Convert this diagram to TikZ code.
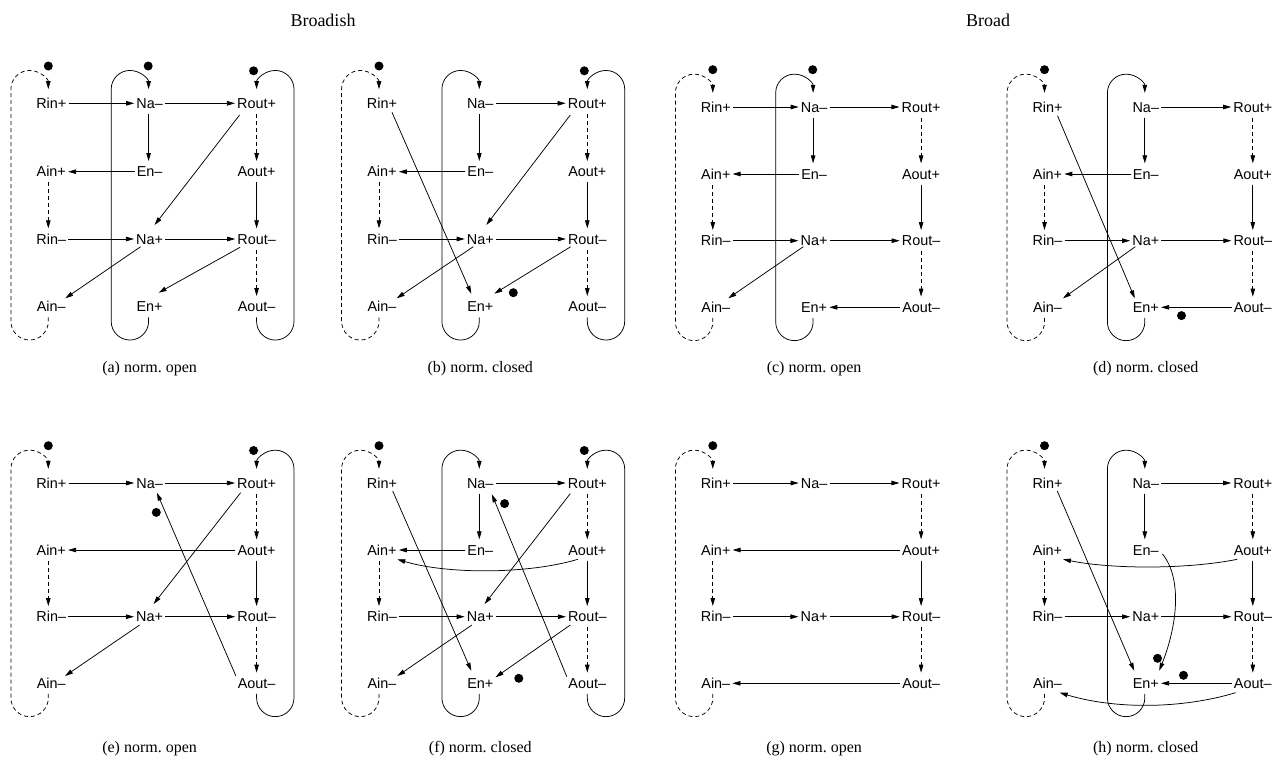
\documentclass[tikz,border=0pt]{standalone}
\usepackage{fontspec}
\setmainfont{Liberation Serif}
\newfontfamily\lblfont{Liberation Sans}
\usetikzlibrary{arrows.meta}
\tikzset{
  lbl/.style={font=\lblfont\fontsize{14.4}{14.4}\selectfont, inner xsep=2pt, inner ysep=5.3pt, text height=10.3pt, text depth=0pt},
  arr/.style={line width=0.75pt, -{Triangle[length=8pt,width=4.5pt]}},
  darr/.style={arr, dash pattern=on 4pt off 3pt},
  dotn/.style={circle, fill=black, inner sep=0pt, minimum size=9pt},
  captxt/.style={font=\fontsize{16}{16}\selectfont},
  ttl/.style={font=\fontsize{18}{18}\selectfont},
}
\newcommand\dE[7][arr]{\draw[#1] ([shift={(#3,#4)}]#2.center) -- ([shift={(#6,#7)}]#5.center);}
\newcommand\basenodes[6]{%
 \node[lbl] (#1RiP) at ({#2+51.3},#3) {Rin+};
 \node[lbl] (#1AiP) at ({#2+51.3},#4) {Ain+};
 \node[lbl] (#1RiM) at ({#2+51.3},#5) {Rin–};
 \node[lbl] (#1AiM) at ({#2+51.3},#6) {Ain–};
 \node[lbl] (#1NaM) at ({#2+149.6},#3) {Na–};
 \node[lbl] (#1NaP) at ({#2+149.6},#5) {Na+};
 \node[lbl] (#1RoP) at ({#2+256.6},#3) {Rout+};
 \node[lbl] (#1AoP) at ({#2+256.6},#4) {Aout+};
 \node[lbl] (#1RoM) at ({#2+256.6},#5) {Rout–};
 \node[lbl] (#1AoM) at ({#2+256.6},#6) {Aout–};
}
\newcommand\ennodes[4]{%
 \node[lbl] (#1EnM) at ({#2+149.6},#3) {En–};
 \node[lbl] (#1EnP) at ({#2+149.6},#4) {En+};
}
\newcommand\lpleft[4]{%
 \draw[#1] ([xshift=#4]#2.south) -- ++(0,4) arc (0:180:18.7) -- ([xshift=#4-37.4,yshift=3.5]#3.north) arc (180:360:18.7);}
\newcommand\lpright[2]{%
 \draw[arr] (#1.south) -- ++(0,4) arc (180:0:18.7) -- ([xshift=37.4,yshift=3.5]#2.north) arc (0:-180:18.7);}
\newcommand\common[1]{%
 \draw[arr] (#1NaM) -- (#1RoP);
 \draw[darr] ([xshift=-3]#1AiP.south) -- ([xshift=-3]#1RiM.north);
 \draw[arr] (#1RiM) -- (#1NaP);
 \draw[arr] (#1NaP) -- (#1RoM);
 \draw[darr] (#1RoP) -- (#1AoP);
 \draw[arr] (#1AoP) -- (#1RoM);
 \draw[darr] (#1RoM) -- (#1AoM);
 \lpleft{darr}{#1AiM}{#1RiP}{-3}
 \node[dotn] (#1dR) at ([shift={(-3,-37.3)}]#1RiP.center) {};
}
\newcommand\nadown[1]{\draw[arr] ([xshift=-1]#1NaM.south) -- ([xshift=-1]#1EnM.north);}
\begin{document}
\begin{tikzpicture}[x=1pt,y=-1pt]
\useasboundingbox (0,0) rectangle (1278,769);
\node[ttl] (t1) at (323,20) {Broadish};
\node[ttl] (t2) at (988,20) {Broad};
% ---------- (a)
\basenodes{a}{0}{103.3}{171.7}{239}{306.7}
\ennodes{a}{0}{171.7}{306.7}
\common{a}
\draw[arr] (aRiP) -- (aNaM);
\nadown{a}
\draw[arr] (aEnM) -- (aAiP);
\dE{aRoP}{-17}{11.7}{aNaP}{5}{-14}
\dE{aNaP}{-9}{7.7}{aAiM}{14}{-8.4}
\dE{aRoM}{-16.5}{8.3}{aEnP}{9}{-14}
\lpleft{arr}{aEnP}{aNaM}{-1}
\lpright{aAoM}{aRoP}
\node[dotn] (adN) at ([shift={(-1.4,-37.3)}]aNaM.center) {};
\node[dotn] (adO) at ([shift={(-3,-32.5)}]aRoP.center) {};
\node[captxt] (aC) at (149.6,369) {(a) norm.\ open};
% ---------- (b)
\basenodes{b}{330.7}{103.3}{171.7}{239}{306.7}
\ennodes{b}{330.7}{171.7}{306.7}
\common{b}
\nadown{b}
\draw[arr] (bEnM) -- (bAiP);
\dE{bRiP}{10}{9}{bEnP}{-9}{-13}
\dE{bRoP}{-17}{11.7}{bNaP}{6}{-14}
\dE{bNaP}{-7}{7.7}{bAiM}{14.7}{-8.4}
\dE{bRoM}{-16.6}{7.7}{bEnP}{14}{-13}
\lpleft{arr}{bEnP}{bNaM}{-1}
\lpright{bAoM}{bRoP}
\node[dotn] (bdO) at ([shift={(-3,-32.5)}]bRoP.center) {};
\node[dotn] (bdE) at ([shift={(33,-14)}]bEnP.center) {};
\node[captxt] (bC) at (480.3,369) {(b) norm.\ closed};
% ---------- (c)
\basenodes{c}{664.5}{107}{174}{240.7}{307.3}
\ennodes{c}{664.5}{174}{307.3}
\common{c}
\draw[arr] (cRiP) -- (cNaM);
\nadown{c}
\draw[arr] (cEnM) -- (cAiP);
\dE{cNaP}{-10.8}{6}{cAiM}{12.5}{-9}
\draw[arr] (cAoM) -- (cEnP);
\lpleft{arr}{cEnP}{cNaM}{-1}
\node[dotn] (cdN) at ([shift={(-1.4,-37.3)}]cNaM.center) {};
\node[captxt] (cC) at (814.1,369) {(c) norm.\ open};
% ---------- (d)
\basenodes{d}{996.2}{107}{174}{240.7}{307.3}
\ennodes{d}{996.2}{174}{307.3}
\common{d}
\nadown{d}
\draw[arr] (dEnM) -- (dAiP);
\dE{dRiP}{10}{8.7}{dEnP}{-11}{-9}
\dE{dNaP}{-10.5}{6}{dAiM}{15.5}{-9}
\draw[arr] (dAoM) -- (dEnP);
\lpleft{arr}{dEnP}{dNaM}{-1}
\node[dotn] (ddE) at ([shift={(35.7,8.3)}]dEnP.center) {};
\node[captxt] (dC) at (1145.8,369) {(d) norm.\ closed};
% ---------- (e)
\basenodes{e}{0}{483}{550}{616.7}{683.3}
\common{e}
\draw[arr] (eRiP) -- (eNaM);
\draw[arr] (eAoP) -- (eAiP);
\dE{eRoP}{-16}{9.7}{eNaP}{4}{-12.7}
\dE{eNaP}{-10}{8.3}{eAiM}{13.7}{-7.3}
\dE{eAoM}{-20.7}{-7.3}{eNaM}{7.3}{9.7}
\lpright{eAoM}{eRoP}
\node[dotn] (edO) at ([shift={(-3,-32.5)}]eRoP.center) {};
\node[dotn] (edN) at ([shift={(6.7,29.4)}]eNaM.center) {};
\node[captxt] (eC) at (149.6,749) {(e) norm.\ open};
% ---------- (f)
\basenodes{f}{330.7}{483}{550}{616.7}{683.3}
\ennodes{f}{330.7}{550}{683.3}
\common{f}
\nadown{f}
\draw[arr] (fEnM) -- (fAiP);
\draw[arr] ([shift={(-9.5,9.3)}]fAoP.center) .. controls +(-50,15) and +(50,15) .. ([shift={(15.3,9.3)}]fAiP.center);
\dE{fRiP}{10.7}{8}{fEnP}{-9}{-12.6}
\dE{fRoP}{-17}{10.6}{fNaP}{4.3}{-12.7}
\dE{fNaP}{-8.4}{8.3}{fAiM}{15.3}{-7.3}
\dE{fRoM}{-17}{8.3}{fEnP}{15.2}{-6}
\dE{fAoM}{-20.5}{-6.6}{fNaM}{11.6}{11.3}
\lpleft{arr}{fEnP}{fNaM}{-1}
\lpright{fAoM}{fRoP}
\node[dotn] (fdO) at ([shift={(-3,-32.5)}]fRoP.center) {};
\node[dotn] (fdN) at ([shift={(24.3,20.6)}]fNaM.center) {};
\node[dotn] (fdE) at ([shift={(38.5,-5)}]fEnP.center) {};
\node[captxt] (fC) at (480.3,749) {(f) norm.\ closed};
% ---------- (g)
\basenodes{g}{664.5}{483}{550}{616.7}{683.3}
\common{g}
\draw[arr] (gRiP) -- (gNaM);
\draw[arr] (gAoP) -- (gAiP);
\draw[arr] (gAoM) -- (gAiM);
\node[captxt] (gC) at (814.1,749) {(g) norm.\ open};
% ---------- (h)
\basenodes{h}{996.2}{483}{550}{616.7}{683.3}
\ennodes{h}{996.2}{550}{683.3}
\common{h}
\nadown{h}
\dE{hRiP}{9.8}{8}{hEnP}{-11.6}{-12.6}
\draw[arr] ([shift={(16.7,4)}]hEnM.center) .. controls +(20,25) and +(18,-45) .. ([shift={(13.4,-12.6)}]hEnP.center);
\draw[arr] ([shift={(-15.5,9.3)}]hAoP.center) .. controls +(-50,10) and +(50,10) .. ([shift={(15.5,9.3)}]hAiP.center);
\draw[arr] (hAoM) -- (hEnP);
\draw[arr] ([shift={(-17.2,9.4)}]hAoM.center) .. controls +(-55,16.5) and +(55,16.5) .. ([shift={(12.2,9.4)}]hAiM.center);
\lpleft{arr}{hEnP}{hNaM}{-1}
\node[dotn] (hdE1) at ([shift={(11.7,-25)}]hEnP.center) {};
\node[dotn] (hdE2) at ([shift={(37.7,-8)}]hEnP.center) {};
\node[captxt] (hC) at (1145.8,749) {(h) norm.\ closed};
\end{tikzpicture}
\end{document}
